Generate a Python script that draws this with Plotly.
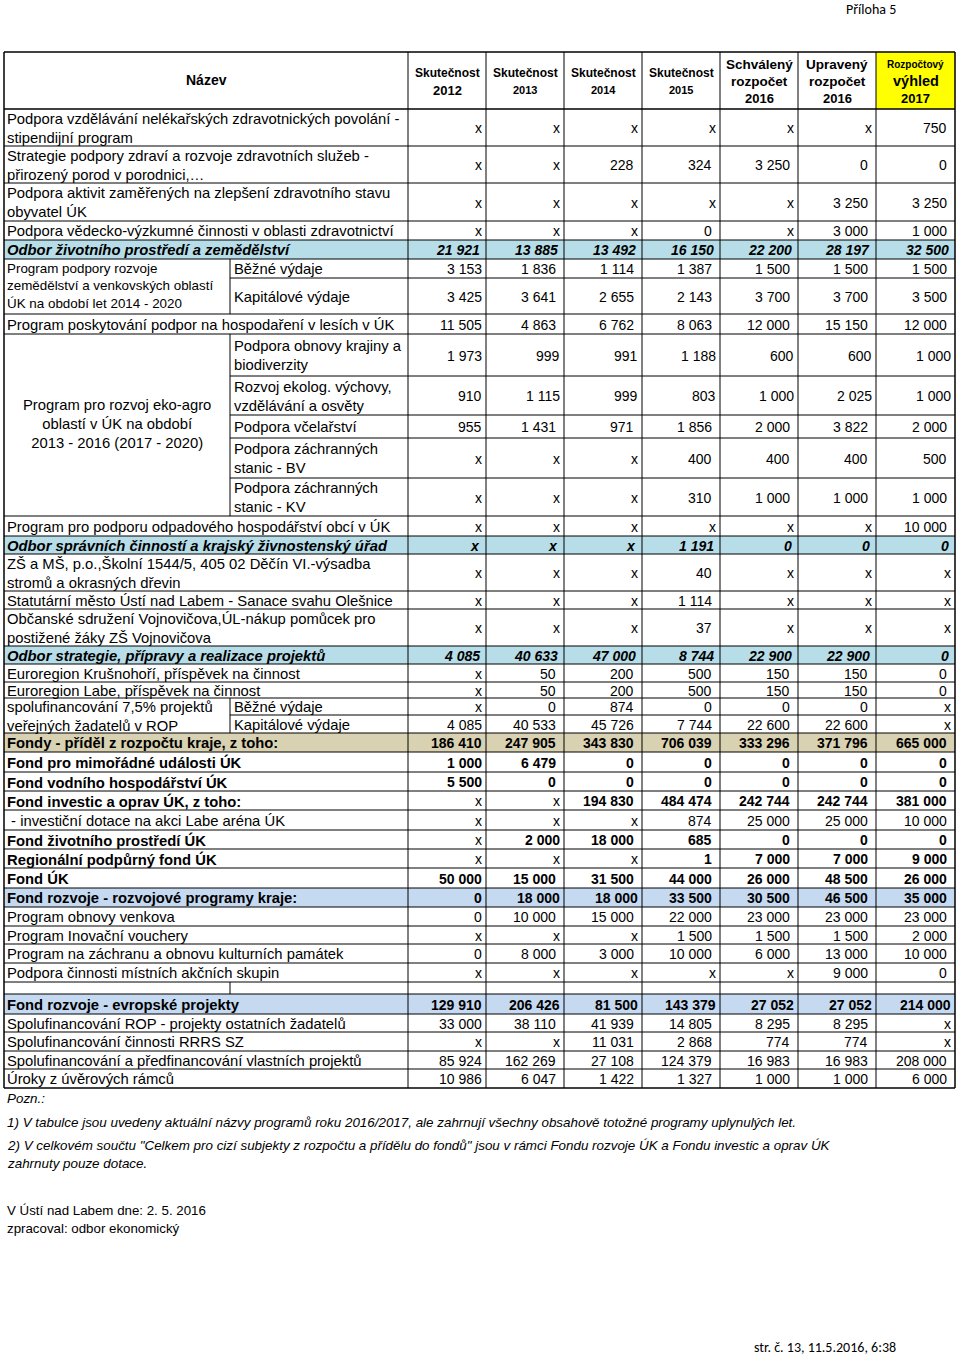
import plotly.graph_objects as go

# ---------------- data ----------------
header_name = "Název"
header_lines = [
    [("Skutečnost", 12), ("2012", 13)],
    [("Skutečnost", 12), ("2013", 11)],
    [("Skutečnost", 12), ("2014", 11)],
    [("Skutečnost", 12), ("2015", 11)],
    [("Schválený", 13.5), ("rozpočet", 13.5), ("2016", 13)],
    [("Upravený", 13.5), ("rozpočet", 13.5), ("2016", 13)],
    [("Rozpočtový", 10), ("výhled", 14.5), ("2017", 13)],
]

row_labels = [
    "Podpora vzdělávání nelékařských zdravotnických povolání -<br>stipendijní program",
    "Strategie podpory zdraví a rozvoje zdravotních služeb -<br>přirozený porod v porodnici,…",
    "Podpora aktivit zaměřených na zlepšení zdravotního stavu<br>obyvatel ÚK",
    "Podpora vědecko-výzkumné činnosti v oblasti zdravotnictví",
    "Odbor životního prostředí a zemědělství",
    "Běžné výdaje",
    "Kapitálové výdaje",
    "Program poskytování podpor na hospodaření v lesích v ÚK",
    "Podpora obnovy krajiny a<br>biodiverzity",
    "Rozvoj ekolog. výchovy,<br>vzdělávání a osvěty",
    "Podpora včelařství",
    "Podpora záchranných<br>stanic - BV",
    "Podpora záchranných<br>stanic - KV",
    "Program pro podporu odpadového hospodářství obcí v ÚK",
    "Odbor správních činností a krajský živnostenský úřad",
    "ZŠ a MŠ, p.o.,Školní 1544/5, 405 02 Děčín VI.-výsadba<br>stromů a okrasných dřevin",
    "Statutární město Ústí nad Labem - Sanace svahu Olešnice",
    "Občanské sdružení Vojnovičova,ÚL-nákup pomůcek pro<br>postižené žáky ZŠ Vojnovičova",
    "Odbor strategie, přípravy a realizace projektů",
    "Euroregion Krušnohoří, příspěvek na činnost",
    "Euroregion Labe, příspěvek na činnost",
    "Běžné výdaje",
    "Kapitálové výdaje",
    "Fondy - příděl z rozpočtu kraje, z toho:",
    "Fond pro mimořádné události ÚK",
    "Fond vodního hospodářství ÚK",
    "Fond investic a oprav ÚK, z toho:",
    " - investiční dotace na akci Labe aréna ÚK",
    "Fond životního prostředí ÚK",
    "Regionální podpůrný fond ÚK",
    "Fond ÚK",
    "Fond rozvoje - rozvojové programy kraje:",
    "Program obnovy venkova",
    "Program Inovační vouchery",
    "Program na záchranu a obnovu kulturních památek",
    "Podpora činnosti místních akčních skupin",
    "",
    "Fond rozvoje - evropské projekty",
    "Spolufinancování ROP - projekty ostatních žadatelů",
    "Spolufinancování činnosti RRRS SZ",
    "Spolufinancování a předfinancování vlastních projektů",
    "Úroky z úvěrových rámců",
]

# merged group labels: (first row, last row, text)
group_labels = [
    (5, 6, "Program podpory rozvoje<br>zemědělství a venkovských oblastí<br>ÚK na období let 2014 - 2020"),
    (8, 12, "Program pro rozvoj eko-agro<br>oblastí v ÚK na období<br>2013 - 2016 (2017 - 2020)"),
    (21, 22, "spolufinancování 7,5% projektů<br>veřejných žadatelů v ROP"),
]

skut_2012 = ["x", "x", "x", "x", "21 921", "3 153", "3 425", "11 505", "1 973", "910", "955", "x", "x", "x",
             "x", "x", "x", "x", "4 085", "x", "x", "x", "4 085", "186 410", "1 000", "5 500", "x", "x", "x",
             "x", "50 000", "0", "0", "x", "0", "x", "", "129 910", "33 000", "x", "85 924", "10 986"]
skut_2013 = ["x", "x", "x", "x", "13 885", "1 836", "3 641", "4 863", "999", "1 115", "1 431", "x", "x", "x",
             "x", "x", "x", "x", "40 633", "50", "50", "0", "40 533", "247 905", "6 479", "0", "x", "x", "2 000",
             "x", "15 000", "18 000", "10 000", "x", "8 000", "x", "", "206 426", "38 110", "x", "162 269", "6 047"]
skut_2014 = ["x", "228", "x", "x", "13 492", "1 114", "2 655", "6 762", "991", "999", "971", "x", "x", "x",
             "x", "x", "x", "x", "47 000", "200", "200", "874", "45 726", "343 830", "0", "0", "194 830", "x",
             "18 000", "x", "31 500", "18 000", "15 000", "x", "3 000", "x", "", "81 500", "41 939", "11 031",
             "27 108", "1 422"]
skut_2015 = ["x", "324", "x", "0", "16 150", "1 387", "2 143", "8 063", "1 188", "803", "1 856", "400", "310", "x",
             "1 191", "40", "1 114", "37", "8 744", "500", "500", "0", "7 744", "706 039", "0", "0", "484 474",
             "874", "685", "1", "44 000", "33 500", "22 000", "1 500", "10 000", "x", "", "143 379", "14 805",
             "2 868", "124 379", "1 327"]
schv_2016 = ["x", "3 250", "x", "x", "22 200", "1 500", "3 700", "12 000", "600", "1 000", "2 000", "400", "1 000",
             "x", "0", "x", "x", "x", "22 900", "150", "150", "0", "22 600", "333 296", "0", "0", "242 744",
             "25 000", "0", "7 000", "26 000", "30 500", "23 000", "1 500", "6 000", "x", "", "27 052", "8 295",
             "774", "16 983", "1 000"]
upr_2016 = ["x", "0", "3 250", "3 000", "28 197", "1 500", "3 700", "15 150", "600", "2 025", "3 822", "400",
            "1 000", "x", "0", "x", "x", "x", "22 900", "150", "150", "0", "22 600", "371 796", "0", "0",
            "242 744", "25 000", "0", "7 000", "48 500", "46 500", "23 000", "1 500", "13 000", "9 000", "",
            "27 052", "8 295", "774", "16 983", "1 000"]
vyhl_2017 = ["750", "0", "3 250", "1 000", "32 500", "1 500", "3 500", "12 000", "1 000", "1 000", "2 000", "500",
             "1 000", "10 000", "0", "x", "x", "x", "0", "0", "0", "x", "x", "665 000", "0", "0", "381 000",
             "10 000", "0", "9 000", "26 000", "35 000", "23 000", "2 000", "10 000", "0", "", "214 000", "x", "x",
             "208 000", "6 000"]

value_columns = [skut_2012, skut_2013, skut_2014, skut_2015, schv_2016, upr_2016, vyhl_2017]

notes = [
    ("Pozn.:", 1098),
    ("1) V tabulce jsou uvedeny aktuální názvy programů roku 2016/2017, ale zahrnují všechny obsahově totožné programy uplynulých let.", 1122),
    ("2) V celkovém součtu \"Celkem pro cizí subjekty z rozpočtu a přídělu do fondů\" jsou v rámci Fondu rozvoje ÚK a Fondu investic a oprav ÚK", 1145),
    ("zahrnuty pouze dotace.", 1163),
]
footer_lines = [("V Ústí nad Labem dne: 2. 5. 2016", 1210), ("zpracoval: odbor ekonomický", 1228)]
page_title = "Příloha 5"
page_footer = "str. č. 13, 11.5.2016, 6:38"

# ---------------- layout / style ----------------
W, H = 960, 1356
X_LEFT, X_SUB, X_NAME = 4, 230, 408
col_edges = [408, 486, 564, 642, 720, 798, 876, 955]
HEAD_TOP, HEAD_BOT = 52, 109
row_edges = [109, 146, 183, 221, 240, 259, 278, 314, 334, 376, 415, 438, 478, 516, 536, 554, 591, 609, 646,
             664, 682, 698, 715, 733, 752, 772, 791, 810, 830, 849, 868, 888, 907, 926, 944, 963, 982, 994,
             1014, 1032, 1051, 1069, 1088]
# style per row: n normal, o odbor (bold italic, blue), f fondy (bold, tan), b bold, r bold blue, s sub-row
row_style = ["n", "n", "n", "n", "o", "s", "s", "n", "s", "s", "s", "s", "s", "n", "o", "n", "n", "n", "o",
             "n", "n", "s", "s", "f", "b", "b", "b", "n", "b", "b", "b", "r", "n", "n", "n", "n", "g", "r",
             "n", "n", "n", "n"]
sub_rows = {i for i, s in enumerate(row_style) if s in ("s", "g")}
BG = {"o": "#B7DDE8", "f": "#D8D1B2", "r": "#C5D9F1"}
tight_rows = {8, 9, 37}
tight_cells = {(28, 1), (31, 1), (31, 2)}
LABEL_SIZE = 14.8
VALUE_SIZE = 14

FONT = "Liberation Sans, Arial, sans-serif"
NARROW = "Liberation Sans Narrow, Arial Narrow, Liberation Sans, Arial, sans-serif"
CAL = "Carlito, Lato, sans-serif"

shapes = []
annotations = []


def line(x0, y0, x1, y1, w=1.0):
    shapes.append(dict(type="line", xref="x", yref="y", x0=x0, y0=y0, x1=x1, y1=y1,
                       line=dict(color="black", width=w), layer="above"))


def rect(x0, y0, x1, y1, fill):
    shapes.append(dict(type="rect", xref="x", yref="y", x0=x0, y0=y0, x1=x1, y1=y1,
                       fillcolor=fill, line=dict(width=0), layer="below"))


def ann(x, y, text, size=14, bold=False, italic=False, anchor="left", family=FONT, align="left"):
    t = text
    if bold:
        t = "<b>" + t + "</b>"
    if italic:
        t = "<i>" + t + "</i>"
    annotations.append(dict(x=x, y=y, xref="x", yref="y", text=t, showarrow=False, xanchor=anchor,
                            yanchor="middle", align=align, borderpad=0,
                            font=dict(family=family, size=size, color="black")))


# backgrounds
rect(col_edges[-2], HEAD_TOP, col_edges[-1], HEAD_BOT, "#FFFF00")
for i, s in enumerate(row_style):
    if s in BG:
        rect(X_LEFT, row_edges[i], col_edges[-1], row_edges[i + 1], BG[s])

# header text
ann((X_LEFT + X_NAME) / 2, 80, header_name, size=14, bold=True, anchor="center")
for c, lines in enumerate(header_lines):
    cx = (col_edges[c] + col_edges[c + 1]) / 2
    if len(lines) == 2:
        ys = [73, 90]
    else:
        ys = [64, 81, 98]
    for (txt, sz), yy in zip(lines, ys):
        ann(cx, yy, txt, size=sz, bold=True, anchor="center")

# horizontal lines
group_inner = set()
for a, b, _ in group_labels:
    for r in range(a + 1, b + 1):
        group_inner.add(r)
line(X_LEFT, HEAD_TOP, col_edges[-1], HEAD_TOP, 1.5)
for k, y in enumerate(row_edges):
    w = 1.5 if k in (0, len(row_edges) - 1) else 1.0
    if k in group_inner:
        line(X_SUB, y, col_edges[-1], y, w)
    else:
        line(X_LEFT, y, col_edges[-1], y, w)

# vertical lines
line(X_LEFT, HEAD_TOP, X_LEFT, row_edges[-1], 1.5)
for k, x in enumerate(col_edges):
    line(x, HEAD_TOP, x, row_edges[-1], 1.5 if k == len(col_edges) - 1 else 1.0)
for i in sub_rows:
    line(X_SUB, row_edges[i], X_SUB, row_edges[i + 1], 1.0)

# row labels
for i, lab in enumerate(row_labels):
    if not lab:
        continue
    s = row_style[i]
    yc = (row_edges[i] + row_edges[i + 1]) / 2 + 0.5
    x0 = X_SUB + 3 if s == "s" else X_LEFT + 2
    ann(x0, yc, lab, size=LABEL_SIZE, bold=s in ("o", "f", "b", "r"), italic=(s == "o"))

# group labels
for a, b, lab in group_labels:
    if a == 5:
        ann(X_LEFT + 2, 286, lab, size=13.4, align="left")
    elif a == 8:
        ann((X_LEFT + X_SUB) / 2, 424, lab, size=LABEL_SIZE, anchor="center", align="center")
    else:
        ann(X_LEFT + 2, (row_edges[a] + row_edges[b + 1]) / 2 + 0.5, lab, size=LABEL_SIZE, align="left")

# values
for c, col in enumerate(value_columns):
    xr = col_edges[c + 1]
    for i, v in enumerate(col):
        if v == "":
            continue
        s = row_style[i]
        yc = (row_edges[i] + row_edges[i + 1]) / 2 + 0.5
        if s == "o":
            pad, bold, ital = 5, True, True
        elif v == "x":
            pad, bold, ital = 3, False, False
        else:
            bold = s in ("f", "b", "r")
            ital = False
            if c == 0 or i in tight_rows or (i, c) in tight_cells:
                pad = 3
            else:
                pad = 7
        ann(xr - pad, yc, v, size=VALUE_SIZE, bold=bold, italic=ital, anchor="right")

# notes and footers
for k, (txt, yy) in enumerate(notes):
    ann(X_LEFT + 2, yy, txt, size=13.4, italic=True, family=NARROW)
for txt, yy in footer_lines:
    ann(X_LEFT + 2, yy, txt, size=13.3, family=NARROW)
ann(897, 9, page_title, size=14, anchor="right", family=CAL)
ann(897, 1347, page_footer, size=14, anchor="right", family=CAL)

fig = go.Figure()
fig.update_layout(
    width=W, height=H, margin=dict(l=0, r=0, t=0, b=0),
    paper_bgcolor="white", plot_bgcolor="white",
    xaxis=dict(range=[0, W], visible=False, fixedrange=True),
    yaxis=dict(range=[H, 0], visible=False, fixedrange=True),
    shapes=shapes, annotations=annotations, showlegend=False,
)
fig.write_html("out.html", config={"displayModeBar": False},
               post_script="document.body.style.margin='0';document.body.style.overflow='hidden';")
